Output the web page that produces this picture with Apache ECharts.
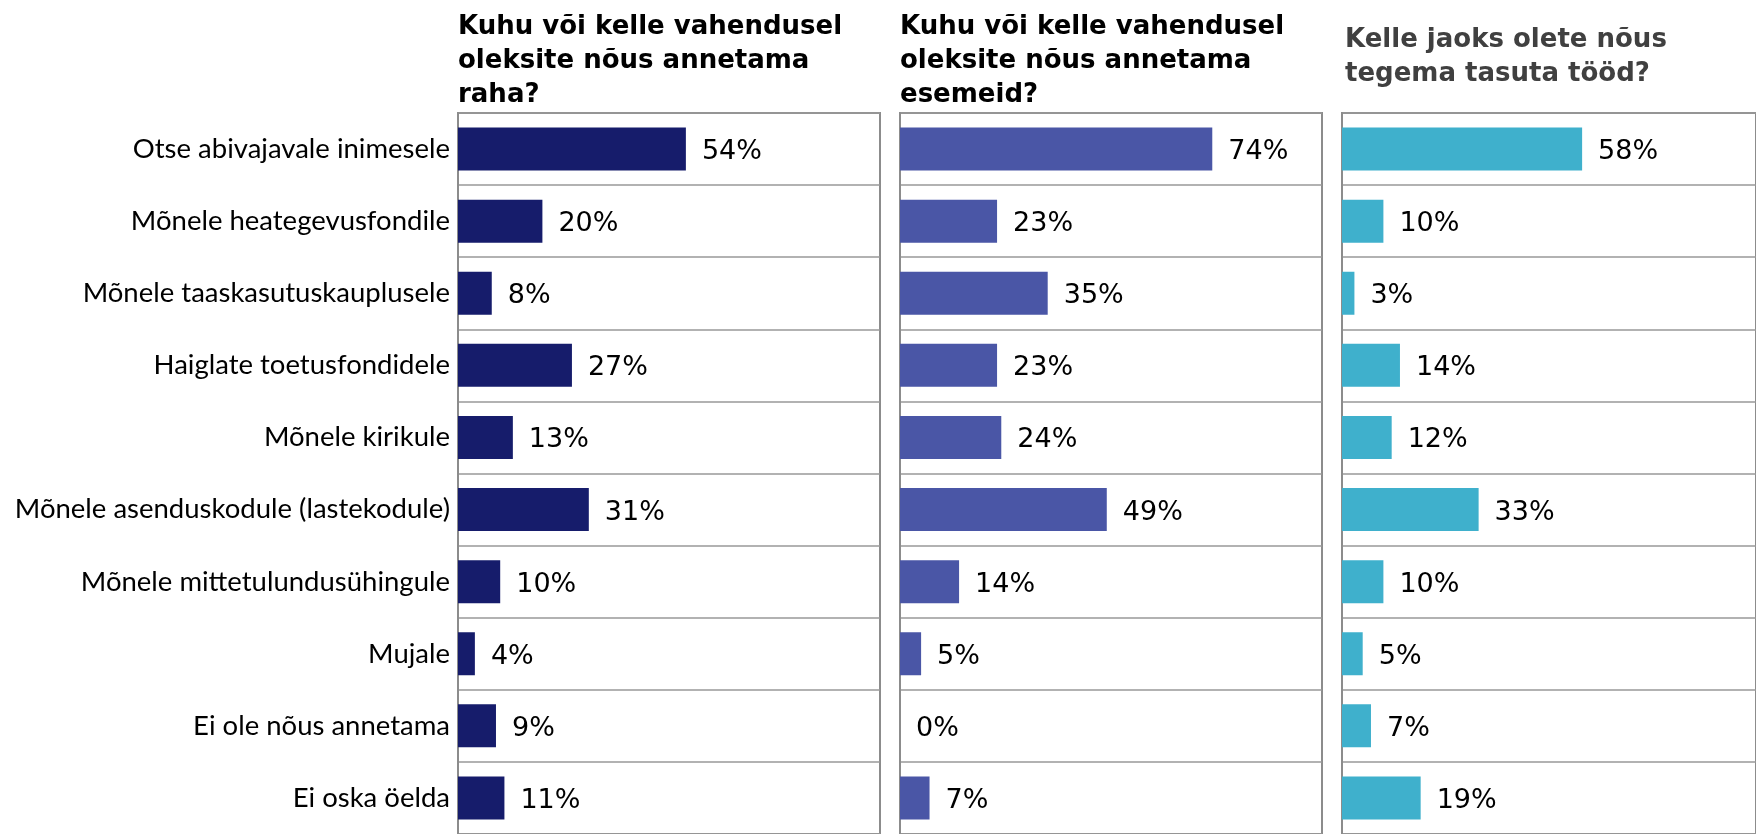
<!DOCTYPE html>
<html>
<head>
<meta charset="utf-8">
<script src="https://cdn.jsdelivr.net/npm/echarts@6/dist/echarts.min.js"></script>
<style>
  html, body { margin: 0; padding: 0; background: #fff; }
  #chart { width: 1756px; height: 834px; }
</style>
</head>
<body>
<div id="chart"></div>
<script>
// categories, top to bottom
const categories = [
  "Otse abivajavale inimesele",
  "Mõnele heategevusfondile",
  "Mõnele taaskasutuskauplusele",
  "Haiglate toetusfondidele",
  "Mõnele kirikule",
  "Mõnele asenduskodule (lastekodule)",
  "Mõnele mittetulundusühingule",
  "Mujale",
  "Ei ole nõus annetama",
  "Ei oska öelda"
];

// % per question
const rahaValues = [54, 20, 8, 27, 13, 31, 10, 4, 9, 11];
const esemeidValues = [74, 23, 35, 23, 24, 49, 14, 5, 0, 7];
const tooValues = [58, 10, 3, 14, 12, 33, 10, 5, 7, 19];

const panelTitles = [
  "Kuhu või kelle vahendusel\noleksite nõus annetama\nraha?",
  "Kuhu või kelle vahendusel\noleksite nõus annetama\nesemeid?",
  "Kelle jaoks olete nõus\ntegema tasuta tööd?"
];

const panels = [
  { values: rahaValues, color: "#161c6b", left: 458, titleColor: "#000", titleTop: 10 },
  { values: esemeidValues, color: "#4a56a6", left: 900, titleColor: "#000", titleTop: 10 },
  { values: tooValues, color: "#3fb0cc", left: 1342, titleColor: "#404040", titleTop: 23 }
];

const panelWidth = 422;
const borderColor = "#8c8c8c";

const chart = echarts.init(document.getElementById("chart"), null, { renderer: "canvas" });

const option = {
  animation: false,
  backgroundColor: "#fff",
  title: panels.map((p, i) => ({
    text: panelTitles[i],
    left: i === 2 ? p.left + 3 : p.left,
    top: p.titleTop,
    padding: 0,
    textStyle: {
      fontFamily: "DejaVu Sans",
      fontWeight: "bold",
      fontSize: 26,
      lineHeight: 34,
      color: p.titleColor
    }
  })),
  grid: panels.map(p => ({
    left: p.left,
    width: panelWidth,
    top: 113,
    bottom: -2,
    show: true,
    borderColor: borderColor,
    borderWidth: 2,
    containLabel: false
  })),
  xAxis: panels.map((p, i) => ({
    type: "value",
    gridIndex: i,
    min: 0,
    max: 100,
    show: false
  })),
  yAxis: panels.map((p, i) => ({
    type: "category",
    gridIndex: i,
    data: categories,
    inverse: true,
    axisLine: { show: true, lineStyle: { color: borderColor, width: 2 } },
    axisTick: { show: false },
    axisLabel: {
      show: i === 0,
      margin: 8,
      fontFamily: "Lato",
      fontSize: 27.5,
      color: "#000"
    },
    splitLine: { show: true, lineStyle: { color: "#999", width: 1.5 } }
  })),
  series: panels.map((p, i) => ({
    type: "bar",
    xAxisIndex: i,
    yAxisIndex: i,
    data: p.values,
    barWidth: 43,
    itemStyle: { color: p.color },
    label: {
      show: true,
      position: "right",
      distance: 16,
      offset: [0, 3],
      formatter: "{c}%",
      fontFamily: "DejaVu Sans",
      fontSize: 27,
      color: "#000"
    }
  }))
};

chart.setOption(option);
</script>
</body>
</html>
